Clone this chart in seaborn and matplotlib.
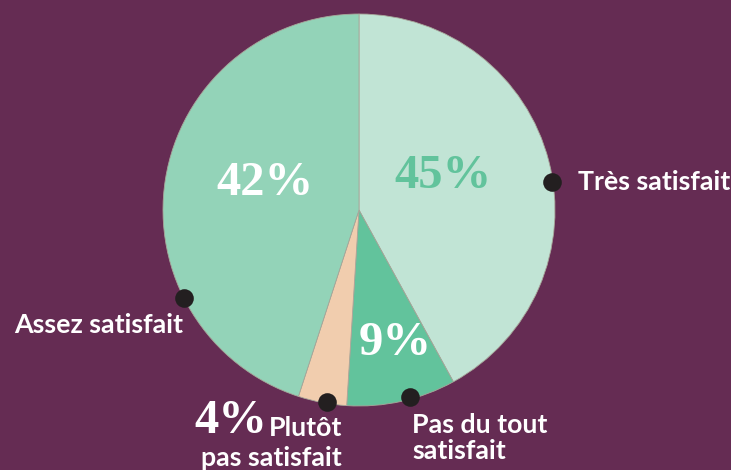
import matplotlib
matplotlib.use("Agg")
import matplotlib.pyplot as plt
import seaborn as sns

# Data (slice sizes as drawn in the reference, clockwise from the top)
categories = ["Très satisfait", "Pas du tout\nsatisfait", "Plutôt\npas satisfait", "Assez satisfait"]
shares = [42, 9, 4, 45]
pct_labels = ["45%", "9%", "4%", "42%"]

BG = "#652c53"
colors = sns.color_palette(["#c1e4d5", "#62c39c", "#f1cdae", "#93d3b8"])

W, H = 731, 470
fig = plt.figure(figsize=(W / 100, H / 100), dpi=100, facecolor=BG)
ax = fig.add_axes([0, 0, 1, 1])
ax.set_facecolor(BG)


def py(y):
    # pixel row (top-down) -> data y
    return H - y


cx, cy, r = 359, py(210), 196
ax.pie(shares, colors=colors, startangle=90, counterclock=False,
       center=(cx, cy), radius=r,
       wedgeprops={"linewidth": 0.6, "edgecolor": "#a7a79a"})
ax.set_xlim(0, W)
ax.set_ylim(0, H)
ax.set_aspect("equal")
ax.axis("off")

# leader dots
dots = [(552, 182), (410, 397), (327, 402), (184, 298)]
for x, y in dots:
    ax.scatter(x, py(y), s=180, color="#231f20", zorder=5, linewidths=0)

lab = dict(family="Lato", weight="bold", color="white", fontsize=19.3)
ax.text(578, py(182), categories[0], ha="left", va="center", **lab)
ax.text(412, py(413), categories[1], ha="left", va="top", linespacing=1.12, **lab)
# "Plutôt" sits beside the 4% figure, so each line is placed on its own
line1, line2 = categories[2].split("\n")
ax.text(342, py(428), line1, ha="right", va="center", **lab)
ax.text(342, py(458), line2, ha="right", va="center", **lab)
ax.text(183, py(325), categories[3], ha="right", va="center", **lab)

pct = dict(family="Liberation Serif", weight="bold", fontsize=35)
ax.text(443, py(176), pct_labels[0], ha="center", va="center", color="#62c39c", **pct)
ax.text(395, py(343), pct_labels[1], ha="center", va="center", color="white", **pct)
ax.text(231, py(421), pct_labels[2], ha="center", va="center", color="white", **pct)
ax.text(265, py(183), pct_labels[3], ha="center", va="center", color="white", **pct)

fig.savefig("out.png", dpi=100, facecolor=BG)
